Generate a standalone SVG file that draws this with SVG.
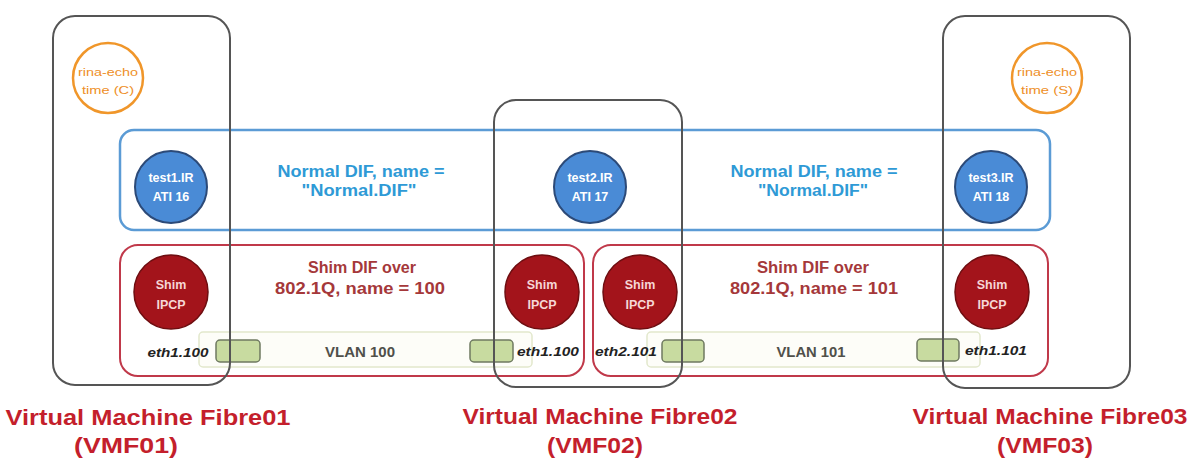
<svg xmlns="http://www.w3.org/2000/svg" width="1192" height="464" viewBox="0 0 1192 464">
  <style>
    .vm { fill: none; stroke: #555555; stroke-width: 2; }
    .ndif { fill: #ffffff; stroke: #5b9bd5; stroke-width: 2.5; }
    .sdif { fill: #ffffff; stroke: #c0394a; stroke-width: 2; }
    .vlan { fill: #fdfdf8; stroke: #e2e8cc; stroke-width: 1.5; }
    .port { fill: #c8dba0; stroke: #6f7a60; stroke-width: 1.5; }
    .app { fill: #ffffff; stroke: #f0962a; stroke-width: 2.5; }
    .ipcp { fill: #4a8bd6; stroke: #2c4a78; stroke-width: 2; }
    .shim { fill: #a3141b; stroke: #6e0d10; stroke-width: 1.5; }
    text { font-family: "Liberation Sans", Arial, sans-serif; text-anchor: middle; }
    .t-app { font-size: 11px; fill: #ee8f28; }
    .t-ipcp { font-size: 12.5px; font-weight: bold; fill: #ffffff; }
    .t-shim { font-size: 12.5px; font-weight: bold; fill: #f6d6d6; }
    .t-ndif { font-size: 16px; font-weight: bold; fill: #2e9ad6; }
    .t-sdif { font-size: 16px; font-weight: bold; fill: #a5383a; }
    .t-vlan { font-size: 14px; font-weight: bold; fill: #50504a; }
    .t-eth { font-size: 13.5px; font-weight: bold; font-style: italic; fill: #222222; }
    .t-vm { font-size: 22px; font-weight: bold; fill: #c41f2c; }
  </style>

  <!-- Normal DIF layer -->
  <g id="normal-dif">
    <rect class="ndif" x="120" y="130" width="930" height="100" rx="14"/>
    <text class="t-ndif" x="361" y="177" textLength="167" lengthAdjust="spacingAndGlyphs">Normal DIF, name =</text>
    <text class="t-ndif" x="359" y="196" textLength="115" lengthAdjust="spacingAndGlyphs">"Normal.DIF"</text>
    <text class="t-ndif" x="814" y="177" textLength="167" lengthAdjust="spacingAndGlyphs">Normal DIF, name =</text>
    <text class="t-ndif" x="813" y="196" textLength="110" lengthAdjust="spacingAndGlyphs">"Normal.DIF"</text>
  </g>

  <!-- Shim DIF 100 -->
  <g id="shim-dif-100">
    <rect class="sdif" x="120" y="245" width="464" height="131" rx="18"/>
    <text class="t-sdif" x="362" y="273" textLength="108" lengthAdjust="spacingAndGlyphs">Shim DIF over</text>
    <text class="t-sdif" x="360" y="294" textLength="170" lengthAdjust="spacingAndGlyphs">802.1Q, name = 100</text>
  </g>

  <!-- Shim DIF 101 -->
  <g id="shim-dif-101">
    <rect class="sdif" x="593" y="245" width="455" height="131" rx="18"/>
    <text class="t-sdif" x="813" y="273" textLength="112" lengthAdjust="spacingAndGlyphs">Shim DIF over</text>
    <text class="t-sdif" x="814" y="294" textLength="168" lengthAdjust="spacingAndGlyphs">802.1Q, name = 101</text>
  </g>

  <!-- VLAN segments -->
  <g id="vlan-100">
    <rect class="vlan" x="199" y="332" width="333" height="35" rx="4"/>
    <text class="t-vlan" x="360" y="357" textLength="70" lengthAdjust="spacingAndGlyphs">VLAN 100</text>
  </g>
  <g id="vlan-101">
    <rect class="vlan" x="647" y="332" width="333" height="35" rx="4"/>
    <text class="t-vlan" x="811" y="357" textLength="69" lengthAdjust="spacingAndGlyphs">VLAN 101</text>
  </g>

  <!-- Interfaces -->
  <g id="if-vmf01-eth1-100">
    <rect class="port" x="216" y="340" width="44" height="22" rx="4"/>
    <text class="t-eth" x="178" y="357" textLength="61" lengthAdjust="spacingAndGlyphs">eth1.100</text>
  </g>
  <g id="if-vmf02-eth1-100">
    <rect class="port" x="470" y="340" width="43" height="22" rx="4"/>
    <text class="t-eth" x="548" y="356" textLength="62" lengthAdjust="spacingAndGlyphs">eth1.100</text>
  </g>
  <g id="if-vmf02-eth2-101">
    <rect class="port" x="662" y="340" width="42" height="22" rx="4"/>
    <text class="t-eth" x="626" y="356" textLength="62" lengthAdjust="spacingAndGlyphs">eth2.101</text>
  </g>
  <g id="if-vmf03-eth1-101">
    <rect class="port" x="917" y="339" width="42" height="22" rx="4"/>
    <text class="t-eth" x="996" y="355" textLength="62" lengthAdjust="spacingAndGlyphs">eth1.101</text>
  </g>

  <!-- Applications -->
  <g id="app-client">
    <circle class="app" cx="108" cy="78" r="35"/>
    <text class="t-app" x="108" y="76" textLength="60" lengthAdjust="spacingAndGlyphs">rina-echo</text>
    <text class="t-app" x="108" y="94" textLength="52" lengthAdjust="spacingAndGlyphs">time (C)</text>
  </g>
  <g id="app-server">
    <circle class="app" cx="1047" cy="78" r="35"/>
    <text class="t-app" x="1047" y="76" textLength="60" lengthAdjust="spacingAndGlyphs">rina-echo</text>
    <text class="t-app" x="1047" y="94" textLength="52" lengthAdjust="spacingAndGlyphs">time (S)</text>
  </g>

  <!-- Normal IPC processes -->
  <g id="ipcp-test1">
    <circle class="ipcp" cx="171" cy="187" r="36"/>
    <text class="t-ipcp" x="171" y="182">test1.IR</text>
    <text class="t-ipcp" x="171" y="201">ATI 16</text>
  </g>
  <g id="ipcp-test2">
    <circle class="ipcp" cx="590" cy="187" r="36"/>
    <text class="t-ipcp" x="590" y="182">test2.IR</text>
    <text class="t-ipcp" x="590" y="201">ATI 17</text>
  </g>
  <g id="ipcp-test3">
    <circle class="ipcp" cx="991" cy="187" r="36"/>
    <text class="t-ipcp" x="991" y="182">test3.IR</text>
    <text class="t-ipcp" x="991" y="201">ATI 18</text>
  </g>

  <!-- Shim IPC processes -->
  <g id="shim-vmf01">
    <circle class="shim" cx="171" cy="292" r="37"/>
    <text class="t-shim" x="171" y="289">Shim</text>
    <text class="t-shim" x="171" y="309">IPCP</text>
  </g>
  <g id="shim-vmf02-100">
    <circle class="shim" cx="542" cy="292" r="37"/>
    <text class="t-shim" x="542" y="289">Shim</text>
    <text class="t-shim" x="542" y="309">IPCP</text>
  </g>
  <g id="shim-vmf02-101">
    <circle class="shim" cx="640" cy="292" r="37"/>
    <text class="t-shim" x="640" y="289">Shim</text>
    <text class="t-shim" x="640" y="309">IPCP</text>
  </g>
  <g id="shim-vmf03">
    <circle class="shim" cx="992" cy="292" r="37"/>
    <text class="t-shim" x="992" y="289">Shim</text>
    <text class="t-shim" x="992" y="309">IPCP</text>
  </g>

  <!-- Virtual machine outlines, drawn over the DIF layers -->
  <g id="vmf01">
    <rect class="vm" x="53" y="16" width="177" height="369" rx="22"/>
    <text class="t-vm" x="148" y="425" textLength="285" lengthAdjust="spacingAndGlyphs">Virtual Machine Fibre01</text>
    <text class="t-vm" x="126" y="453" textLength="104" lengthAdjust="spacingAndGlyphs">(VMF01)</text>
  </g>
  <g id="vmf02">
    <rect class="vm" x="494" y="100" width="188" height="287" rx="22"/>
    <text class="t-vm" x="600" y="424" textLength="275" lengthAdjust="spacingAndGlyphs">Virtual Machine Fibre02</text>
    <text class="t-vm" x="595" y="453" textLength="96" lengthAdjust="spacingAndGlyphs">(VMF02)</text>
  </g>
  <g id="vmf03">
    <rect class="vm" x="943" y="16" width="187" height="372" rx="22"/>
    <text class="t-vm" x="1050" y="424" textLength="275" lengthAdjust="spacingAndGlyphs">Virtual Machine Fibre03</text>
    <text class="t-vm" x="1045" y="453" textLength="96" lengthAdjust="spacingAndGlyphs">(VMF03)</text>
  </g>
</svg>
